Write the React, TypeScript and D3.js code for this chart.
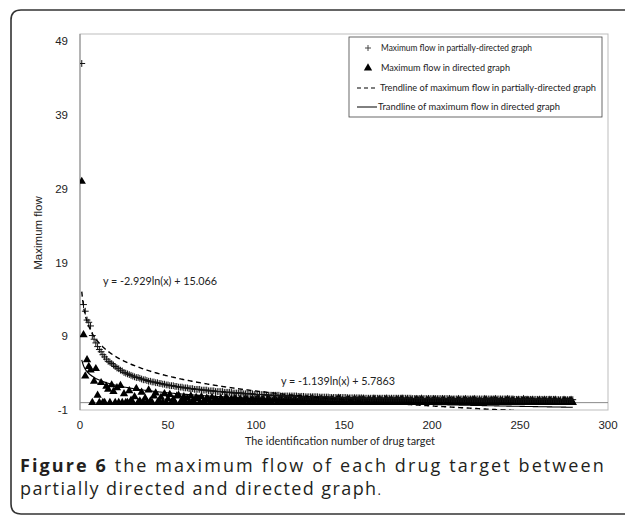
import React from "react";
import * as d3 from "d3";

const X_TICKS = [0, 50, 100, 150, 200, 250, 300];
const Y_TICKS = [-1, 9, 19, 29, 39, 49];

const PARTIAL_FLOW = [
  46, 13.3, 12.4, 11.2, 10.9, 10.4, 9.1, 8.6, 8.1, 7.6, 7.2, 6.9, 6.5, 6.2, 5.9, 5.6, 5.5, 5.3, 5.1, 4.9,
  4.7, 4.6, 4.4, 4.3, 4.1, 4.0, 3.9, 3.8, 3.7, 3.6, 3.5, 3.4, 3.4, 3.3, 3.2, 3.1, 3.1, 3.0, 2.9, 2.9,
  2.8, 2.8, 2.7, 2.7, 2.6, 2.6, 2.5, 2.5, 2.4, 2.4, 2.3, 2.3, 2.3, 2.2, 2.2, 2.1, 2.1, 2.1, 2.0, 2.0,
  2.0, 1.9, 1.9, 1.9, 1.8, 1.8, 1.8, 1.8, 1.7, 1.7, 1.7, 1.7, 1.6, 1.6, 1.6, 1.6, 1.5, 1.5, 1.5, 1.5,
  1.5, 1.4, 1.4, 1.4, 1.4, 1.4, 1.3, 1.3, 1.3, 1.3, 1.3, 1.3, 1.2, 1.2, 1.2, 1.2, 1.2, 1.2, 1.1, 1.1,
  1.1, 1.1, 1.1, 1.1, 1.1, 1.0, 1.0, 1.0, 1.0, 1.0, 1.0, 1.0, 1.0, 0.9, 0.9, 0.9, 0.9, 0.9, 0.9, 0.9,
  0.9, 0.9, 0.9, 0.85, 0.85, 0.85, 0.85, 0.8, 0.8, 0.8, 0.8, 0.8, 0.8, 0.8, 0.8, 0.75, 0.75, 0.75, 0.75, 0.75,
  0.75, 0.7, 0.7, 0.7, 0.7, 0.7, 0.7, 0.7, 0.7, 0.7, 0.7, 0.65, 0.65, 0.65, 0.65, 0.65, 0.65, 0.65, 0.65, 0.65,
  0.6, 0.6, 0.6, 0.6, 0.6, 0.6, 0.6, 0.6, 0.6, 0.6, 0.6, 0.6, 0.6, 0.6, 0.6, 0.6, 0.6, 0.6, 0.6, 0.6,
  0.6, 0.6, 0.6, 0.6, 0.6, 0.6, 0.6, 0.6, 0.55, 0.55, 0.55, 0.55, 0.55, 0.55, 0.55, 0.55, 0.55, 0.55, 0.55, 0.55,
  0.55, 0.55, 0.55, 0.55, 0.55, 0.55, 0.55, 0.55, 0.55, 0.55, 0.5, 0.5, 0.5, 0.5, 0.5, 0.5, 0.5, 0.5, 0.5, 0.5,
  0.5, 0.5, 0.5, 0.5, 0.5, 0.5, 0.5, 0.5, 0.5, 0.5, 0.5, 0.5, 0.5, 0.5, 0.5, 0.5, 0.5, 0.5, 0.5, 0.5,
  0.5, 0.5, 0.5, 0.5, 0.5, 0.5, 0.45, 0.45, 0.45, 0.45, 0.45, 0.45, 0.45, 0.45, 0.45, 0.45, 0.45, 0.45, 0.45, 0.45,
  0.45, 0.45, 0.45, 0.45, 0.45, 0.45, 0.45, 0.45, 0.45, 0.45, 0.4, 0.4, 0.4, 0.4, 0.4, 0.4, 0.4, 0.4, 0.4, 0.4,
];

const DIRECTED_FLOW = [
  30, 9.2, 3.6, 5.8, 4.9, 4.4, 0, 2.9, 4.6, 1.0, 0, 2.7, 0, 0, 2.2, 1.8, 0, 2.4, 1.5, 0,
  2.0, 0, 2.3, 0, 1.2, 0, 0, 1.6, 0.3, 0, 0.8, 1.9, 0, 0.2, 1.4, 0, 0.6, 0, 1.7, 0.2,
  0, 0.9, 1.3, 0, 0.2, 0.7, 0, 1.2, 0, 0.5, 1.1, 0, 0.4, 0, 0.9, 1.0, 0, 0.3, 0.8, 0,
  0.6, 0, 0.9, 0.2, 0, 0.7, 0.5, 0, 0.8, 0.1, 0, 0.6, 0.4, 0, 0.7, 0, 0.5, 0.3, 0, 0.6,
  0.2, 0, 0.7, 0.4, 0, 0.5, 0, 0.6, 0.3, 0, 0.5, 0.2, 0, 0.6, 0.4, 0, 0.3, 0.5, 0, 0.4,
  0.6, 0, 0.3, 0.5, 0.1, 0, 0.6, 0.2, 0, 0.4, 0.5, 0, 0.3, 0.6, 0, 0.2, 0.5, 0, 0.4, 0.3,
  0, 0.5, 0.2, 0, 0.6, 0.3, 0, 0.4, 0.5, 0, 0.2, 0.6, 0, 0.3, 0.4, 0, 0.5, 0.1, 0, 0.4,
  0.3, 0, 0.5, 0.2, 0, 0.4, 0.6, 0, 0.3, 0.1, 0, 0.5, 0.4, 0, 0.2, 0.5, 0, 0.3, 0.4, 0,
  0.5, 0.2, 0, 0.4, 0.3, 0, 0.5, 0.1, 0, 0.4, 0.3, 0, 0.2, 0.5, 0, 0.3, 0.4, 0, 0.2, 0.4,
  0, 0.3, 0.5, 0, 0.2, 0.4, 0, 0.3, 0.1, 0, 0.4, 0.3, 0, 0.5, 0.2, 0, 0.3, 0.4, 0, 0.2,
  0.4, 0, 0.3, 0.2, 0, 0.4, 0.3, 0, 0.2, 0.4, 0, 0.3, 0.1, 0, 0.4, 0.2, 0, 0.3, 0.4, 0,
  0.2, 0.3, 0, 0.4, 0.2, 0, 0.3, 0.1, 0, 0.4, 0.3, 0, 0.2, 0.3, 0, 0.4, 0.2, 0, 0.3, 0.2,
  0, 0.3, 0.4, 0, 0.2, 0.3, 0, 0.1, 0.3, 0, 0.2, 0.4, 0, 0.3, 0.2, 0, 0.3, 0.1, 0, 0.2,
  0.3, 0, 0.2, 0.3, 0, 0.1, 0.3, 0, 0.2, 0.3, 0, 0.2, 0.1, 0, 0.3, 0.2, 0, 0.2, 0.3, 0,
];

// Displayed trendline equations: y = a*ln(x) + b
const TREND_PARTIAL = { a: -2.929, b: 15.066, label: "y = -2.929ln(x) + 15.066" };
const TREND_DIRECTED = { a: -1.139, b: 5.7863, label: "y = -1.139ln(x) + 5.7863" };

const LEGEND_LABELS = [
  "Maximum flow in partially-directed graph",
  "Maximum flow in directed graph",
  "Trendline of maximum flow in partially-directed graph",
  "Trandline of maximum flow in directed graph",
];

export default function App() {
  const W = 625;
  const H = 525;
  const left = 80, right = 608, top = 34, bottom = 410;
  const x = d3.scaleLinear().domain([0, 300]).range([left, right]);
  const y = d3.scaleLinear().domain([-1, 50]).range([bottom, top]);

  const partial = PARTIAL_FLOW.map((v, i) => ({ x: i + 1, y: v }));
  const directed = DIRECTED_FLOW.map((v, i) => ({ x: i + 1, y: v }));

  const xsTrend = partial.map((d) => d.x);
  const lineGen = d3
    .line<number>()
    .x((d) => x(d))
    .curve(d3.curveMonotoneX);
  const trendPath = (t: { a: number; b: number }) =>
    lineGen.y((d) => y(t.a * Math.log(d) + t.b))(xsTrend) || "";

  const tri = d3.symbol().type(d3.symbolTriangle).size(30)() || "";
  const plusSize = 3.4;

  const axisFont = "'Liberation Sans', Arial, sans-serif";
  const calFont = "Lato, 'Open Sans', sans-serif";
  const capFont = "'Open Sans', 'Noto Sans', sans-serif";

  const legendWidths = [151, 129, 216, 182];

  return (
    <svg
      width={W}
      height={H}
      style={{ position: "absolute", left: 0, top: 0, background: "#fff" }}
    >
      <defs>
        <clipPath id="plotClip">
          <rect x={left} y={top} width={right - left} height={bottom - top} />
        </clipPath>
      </defs>
      {/* outer frame */}
      <path
        d={`M ${W + 5} 10 L 21 10 Q 11 10 11 20 L 11 504 Q 11 514 21 514 L ${W + 5} 514`}
        fill="none"
        stroke="#333"
        strokeWidth={1.6}
      />
      {/* plot area */}
      <rect x={left} y={top} width={right - left} height={bottom - top} fill="#fff" stroke="#bdbdbd" strokeWidth={1} />
      <line x1={left} x2={left} y1={top} y2={bottom} stroke="#8a8a8a" strokeWidth={1} />
      <line x1={left} x2={right} y1={y(0)} y2={y(0)} stroke="#8a8a8a" strokeWidth={1} />

      {/* y ticks */}
      {Y_TICKS.map((t) => (
        <text key={t} x={68} y={y(t)} dy="0.35em" textAnchor="end" fontFamily={axisFont} fontSize={11.5} fill="#222">
          {t}
        </text>
      ))}
      {X_TICKS.map((t) => (
        <text key={t} x={x(t)} y={425} dy="0.35em" textAnchor="middle" fontFamily={axisFont} fontSize={11.5} fill="#222">
          {t}
        </text>
      ))}
      <text
        transform={`translate(38, ${233}) rotate(-90)`}
        textAnchor="middle"
        dy="0.35em"
        fontFamily={axisFont}
        fontSize={11.5}
        fill="#222"
      >
        Maximum flow
      </text>
      <text x={340} y={441} dy="0.35em" textAnchor="middle" fontFamily={calFont} fontSize={10.8} fill="#222">
        The identification number of drug target
      </text>

      <g clipPath="url(#plotClip)">
        {/* triangles */}
        {directed.map((d, i) => (
          <path key={"t" + i} d={tri} transform={`translate(${x(d.x)},${y(d.y)})`} fill="#000" />
        ))}
        {/* plus markers */}
        {partial.map((d, i) => (
          <path
            key={"p" + i}
            d={`M ${x(d.x) - plusSize} ${y(d.y)} H ${x(d.x) + plusSize} M ${x(d.x)} ${y(d.y) - plusSize} V ${y(d.y) + plusSize}`}
            stroke="#111"
            strokeWidth={1}
            fill="none"
          />
        ))}
        <path d={trendPath(TREND_PARTIAL)} fill="none" stroke="#000" strokeWidth={1.4} strokeDasharray="5,3.5" />
        <path d={trendPath(TREND_DIRECTED)} fill="none" stroke="#000" strokeWidth={1.1} />
      </g>

      {/* trendline equations */}
      <text x={103} y={281} dy="0.35em" fontFamily={calFont} fontSize={10.8} fill="#222">
        {TREND_PARTIAL.label}
      </text>
      <text x={281} y={381} dy="0.35em" fontFamily={calFont} fontSize={10.8} fill="#222">
        {TREND_DIRECTED.label}
      </text>

      {/* legend */}
      <rect x={349} y={37} width={253} height={80} fill="#fff" stroke="#444" strokeWidth={0.8} />
      <path d={`M 365 48 H 371 M 368 45 V 51`} stroke="#333" strokeWidth={0.9} />
      <path d={tri} transform="translate(368,68)" fill="#000" />
      <line x1={357} x2={377} y1={88} y2={88} stroke="#000" strokeWidth={1.2} strokeDasharray="4,3" />
      <line x1={357} x2={377} y1={107} y2={107} stroke="#000" strokeWidth={1} />
      {LEGEND_LABELS.map((l, i) => (
        <text
          key={l}
          x={i < 2 ? 381 : i === 2 ? 380 : 378}
          y={[48, 68, 88, 107][i]}
          dy="0.35em"
          fontFamily={calFont}
          fontSize={8.6}
          fill="#222"
          textLength={legendWidths[i]}
          lengthAdjust="spacingAndGlyphs"
        >
          {l}
        </text>
      ))}

      {/* caption */}
      <text x={20} y={472} fontFamily={capFont} fontSize={18} fill="#231f20" letterSpacing={1.2} textLength={585} lengthAdjust="spacing">
        <tspan fontWeight="bold">Figure 6</tspan> the maximum flow of each drug target between
      </text>
      <text x={20} y={495} fontFamily={capFont} fontSize={18} fill="#231f20" letterSpacing={1.4}>
        partially directed and directed graph<tspan fontSize={13}>.</tspan>
      </text>
    </svg>
  );
}
